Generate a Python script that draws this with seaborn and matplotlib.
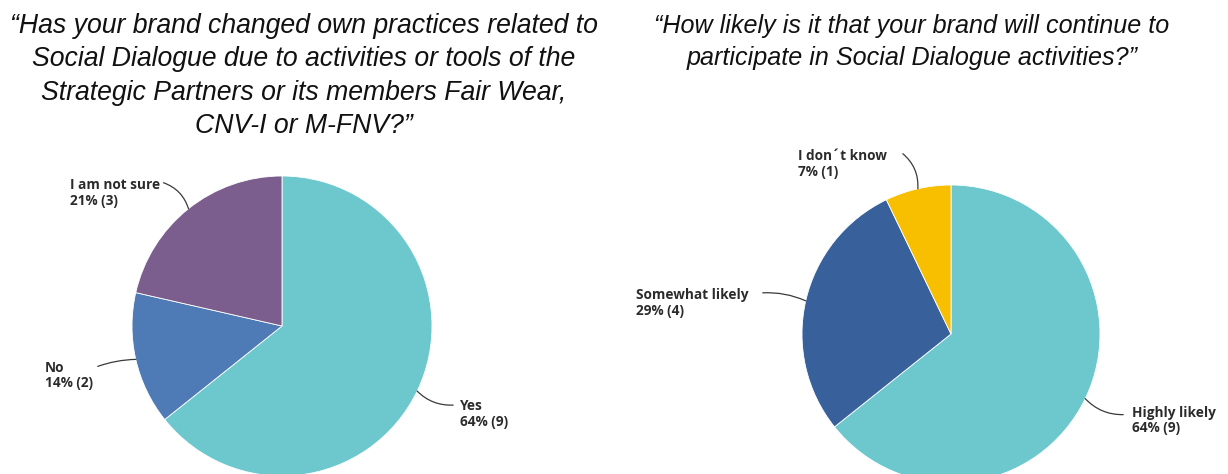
import numpy as np
import matplotlib
matplotlib.use("Agg")
import matplotlib.pyplot as plt
import seaborn as sns

# ---- data ----
q1_title = ("\u201cHas your brand changed own practices related to\n"
            "Social Dialogue due to activities or tools of the\n"
            "Strategic Partners or its members Fair Wear,\n"
            "CNV-I or M-FNV?\u201d")
q1_labels = ["Yes", "No", "I am not sure"]
q1_counts = [9, 2, 3]
q1_colors = ["#6CC8CC", "#4E7BB5", "#7B5E8E"]

q2_title = ("\u201cHow likely is it that your brand will continue to\n"
            "participate in Social Dialogue activities?\u201d")
q2_labels = ["Highly likely", "Somewhat likely", "I don\u00b4t know"]
q2_counts = [9, 4, 1]
q2_colors = ["#6CC8CC", "#38619C", "#F8BE00"]

# ---- layout (pixels) ----
W, H = 1228, 474
# per label: (line start offset, text offset, curvature) relative to wedge edge point
q1_layout = [((36, -14), (43, -23), -0.22),
             ((-38, -7), (-91, -16), -0.08),
             ((-25, 26), (-118, 16), -0.25)]
q2_layout = [((38, -16), (47, -22), -0.22),
             ((-43, 8), (-170, -2), -0.12),
             ((-15, 35), (-120, 25), -0.25)]

sns.set_theme(style="white")
plt.rcParams["font.family"] = ["Liberation Sans", "DejaVu Sans"]

fig = plt.figure(figsize=(W / 100, H / 100), dpi=100)
fig.patch.set_facecolor("white")

TXT = "#2b2b2b"


def px_axes(cx, cy, r):
    return fig.add_axes([(cx - r) / W, (H - cy - r) / H, 2 * r / W, 2 * r / H])


def draw_pie(ax, labels, counts, colors, layout):
    wedges, _ = ax.pie(counts, colors=colors, startangle=90, counterclock=False,
                       radius=1, wedgeprops=dict(edgecolor="white", linewidth=0.6))
    ax.set_xlim(-1, 1)
    ax.set_ylim(-1, 1)
    ax.set_aspect("equal")
    ax.axis("off")
    total = sum(counts)
    for w, lab, n, (lo, to, rad) in zip(wedges, labels, counts, layout):
        mid = np.deg2rad((w.theta1 + w.theta2) / 2)
        edge = (np.cos(mid), np.sin(mid))
        ax.annotate("", xy=edge, xytext=lo, textcoords="offset pixels",
                    annotation_clip=False,
                    arrowprops=dict(arrowstyle="-", color="#3a3a3a", lw=0.9,
                                    shrinkA=0, shrinkB=0,
                                    connectionstyle=f"arc3,rad={rad}"))
        pct = round(100 * n / total)
        ax.annotate(f"{lab}\n{pct}% ({n})", xy=edge, xytext=to,
                    textcoords="offset pixels", ha="left", va="center",
                    fontsize=9.8, fontweight="bold", color=TXT,
                    family=["Open Sans", "DejaVu Sans"], linespacing=1.15,
                    annotation_clip=False)


ax1 = px_axes(282, 326, 150)
draw_pie(ax1, q1_labels, q1_counts, q1_colors, q1_layout)
ax2 = px_axes(951, 334, 149)
draw_pie(ax2, q2_labels, q2_counts, q2_colors, q2_layout)

fig.text(304 / W, 1 - 76 / H, q1_title, ha="center", va="center",
         style="italic", fontsize=19.2, color="#111111", linespacing=1.37)
fig.text(912 / W, 1 - 42 / H, q2_title, ha="center", va="center",
         style="italic", fontsize=18.1, color="#111111", linespacing=1.45)

fig.savefig("out.png", dpi=100, facecolor="white")
